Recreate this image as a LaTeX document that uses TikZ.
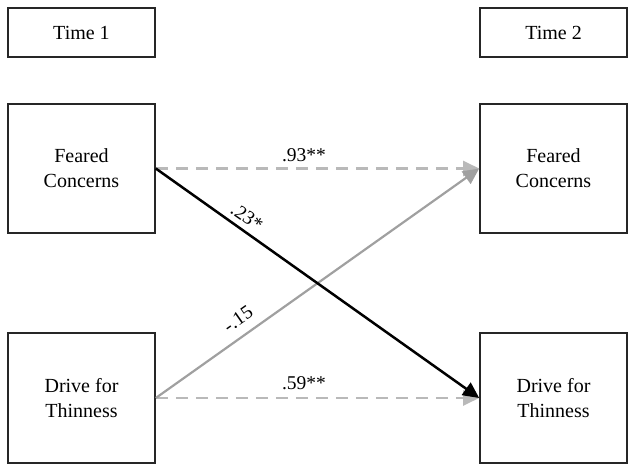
\documentclass[tikz,border=0pt]{standalone}
\usepackage{fontspec}
\setmainfont{Liberation Serif}
\usetikzlibrary{arrows.meta}
\definecolor{lgray}{RGB}{185,185,185}
\definecolor{mgray}{RGB}{160,160,160}
\begin{document}
\begin{tikzpicture}[x=1pt,y=-1pt,
  box/.style={draw=black!85,line width=1.6pt,rectangle,align=center,inner sep=0pt,
    font=\fontsize{20}{25}\selectfont},
  lab/.style={font=\fontsize{19.5}{22}\selectfont,inner sep=0pt},
  dsh/.style={draw=lgray,line width=2.2pt,dash pattern=on 12pt off 8pt},
]
\useasboundingbox (0,0) rectangle (635,473);
\node[box,minimum width=147pt,minimum height=49pt] (t1) at (81.5,32.5) {Time 1};
\node[box,minimum width=147pt,minimum height=49pt] (t2) at (553.5,32.5) {Time 2};
\node[box,minimum width=147pt,minimum height=129pt] (fc1) at (81.5,168.5) {Feared\\Concerns};
\node[box,minimum width=147pt,minimum height=129pt] (fc2) at (553.5,168.5) {Feared\\Concerns};
\node[box,minimum width=147pt,minimum height=130pt] (dt1) at (81.5,398) {Drive for\\Thinness};
\node[box,minimum width=147pt,minimum height=130pt] (dt2) at (553.5,398) {Drive for\\Thinness};
% dashed autoregressive paths
\draw[dsh,-{Triangle[length=16pt,width=15pt,fill=lgray]}] (fc1.east) -- (fc2.west);
\draw[dsh,-{Triangle[length=16pt,width=15pt,fill=lgray]}] (dt1.east) -- (dt2.west);
% cross-lagged
\draw[mgray,line width=2.2pt,-{Triangle[length=16pt,width=15pt]}] (dt1.east) -- (fc2.west);
\draw[black,line width=2.5pt,-{Triangle[length=16pt,width=15pt]}] (fc1.east) -- (dt2.west);
\node[lab] (l1) at (304,155) {.93**};
\node[lab] (l2) at (304,383) {.59**};
\node[lab,rotate=-35] (l3) at (247,217) {.23*};
\node[lab,rotate=35] (l4) at (238,319) {-.15};
\end{tikzpicture}
\end{document}
